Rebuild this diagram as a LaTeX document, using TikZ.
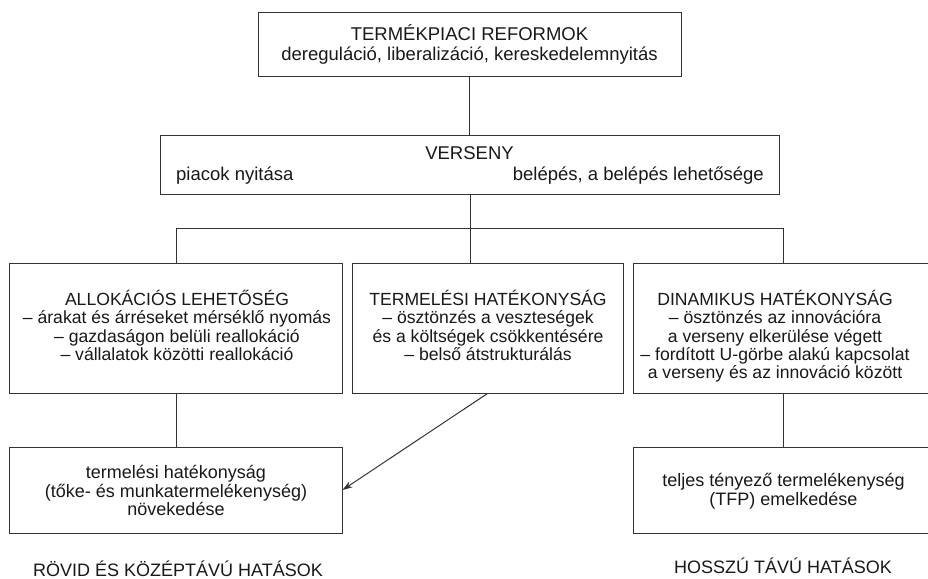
\documentclass[tikz,border=0pt]{standalone}
\usepackage{fontspec}
\setmainfont{Liberation Sans}
\usetikzlibrary{arrows.meta}
\begin{document}
\begin{tikzpicture}[x=1pt,y=-1pt,
  boxline/.style={draw=black!80, line width=1pt, rectangle, inner sep=0pt},
  conn/.style={draw=black!80, line width=1pt},
  bigtxt/.style={align=center, font=\fontsize{18.5}{19.5}\selectfont, inner sep=0pt, text=black!90},
  txt/.style={align=center, font=\fontsize{17.6}{18.4}\selectfont, inner sep=0pt, text=black!90},
  otxt/.style={align=center, font=\fontsize{18}{18.8}\selectfont, inner sep=0pt, text=black!90},
  lbl/.style={font=\fontsize{18}{19}\selectfont, inner sep=0pt, text=black!90, anchor=base},
  ]
\useasboundingbox (0,0) rectangle (928,578);
\fill[white] (0,0) rectangle (928,578);
\newcommand{\fs}{\rule{0pt}{17pt}}

% boxes
\node[boxline, minimum width=423pt, minimum height=63pt] (top) at (469.5,44.5) {};
\node[boxline, minimum width=619pt, minimum height=59pt] (vers) at (469.5,164.5) {};
\node[boxline, minimum width=333pt, minimum height=130pt] (alloc) at (175.5,328) {};
\node[boxline, minimum width=271pt, minimum height=130pt] (termel) at (487.5,328) {};
\node[boxline, minimum width=302pt, minimum height=130pt] (dinam) at (784,328) {};
\node[boxline, minimum width=333pt, minimum height=86pt] (out1) at (175.5,490) {};
\node[boxline, minimum width=302pt, minimum height=86pt] (out2) at (784,490) {};

% texts
\node[bigtxt, anchor=north] (toptxt) at (469.5,23.7) {\fs TERMÉKPIACI REFORMOK\\dereguláció, liberalizáció, kereskedelemnyitás};
\node[bigtxt, anchor=base] (verst) at (469.5,159) {VERSENY};
\node[bigtxt, anchor=base west] (versl) at (176,180) {piacok nyitása};
\node[bigtxt, anchor=base east] (versr) at (764,180) {belépés, a belépés lehetősége};

\node[txt, anchor=north] (alloct) at (177,288) {\fs ALLOKÁCIÓS LEHETŐSÉG\\– árakat és árréseket mérséklő nyomás\\– gazdaságon belüli reallokáció\\– vállalatok közötti reallokáció};
\node[txt, anchor=north] (termelt) at (488,288) {\fs TERMELÉSI HATÉKONYSÁG\\– ösztönzés a veszteségek\\és a költségek csökkentésére\\– belső átstrukturálás};
\node[txt, anchor=north] (dinamt) at (775,288) {\fs DINAMIKUS HATÉKONYSÁG\\– ösztönzés az innovációra\\a verseny elkerülése végett\\– fordított U-görbe alakú kapcsolat\\a verseny és az innováció között};

\node[otxt, anchor=north] (out1t) at (176,461) {\fs termelési hatékonyság\\(tőke- és munkatermelékenység)\\növekedése};
\node[otxt, anchor=north] (out2t) at (783.5,469) {\fs teljes tényező termelékenység\\(TFP) emelkedése};

\node[lbl] (short) at (178,576) {RÖVID ÉS KÖZÉPTÁVÚ HATÁSOK};
\node[lbl] (long) at (783,573) {HOSSZÚ TÁVÚ HATÁSOK};

% connectors
\coordinate (bj) at (470,228.5);
\coordinate (lx) at (176,0);
\coordinate (rx) at (783,0);
\draw[conn] (top.south) -- (vers.north);
\draw[conn] (vers.south -| bj) -- (bj);
\draw[conn] (alloc.north -| lx) -- (lx |- bj) -- (rx |- bj) -- (dinam.north -| rx);
\draw[conn] (termel.north -| bj) -- (bj);
\draw[conn] (alloc.south -| lx) -- (out1.north -| lx);
\draw[conn] (dinam.south -| rx) -- (out2.north -| rx);
\draw[conn, -{Stealth[length=10pt, width=6.5pt, inset=3pt]}] (termel.south) -- (out1.east);
\end{tikzpicture}
\end{document}
